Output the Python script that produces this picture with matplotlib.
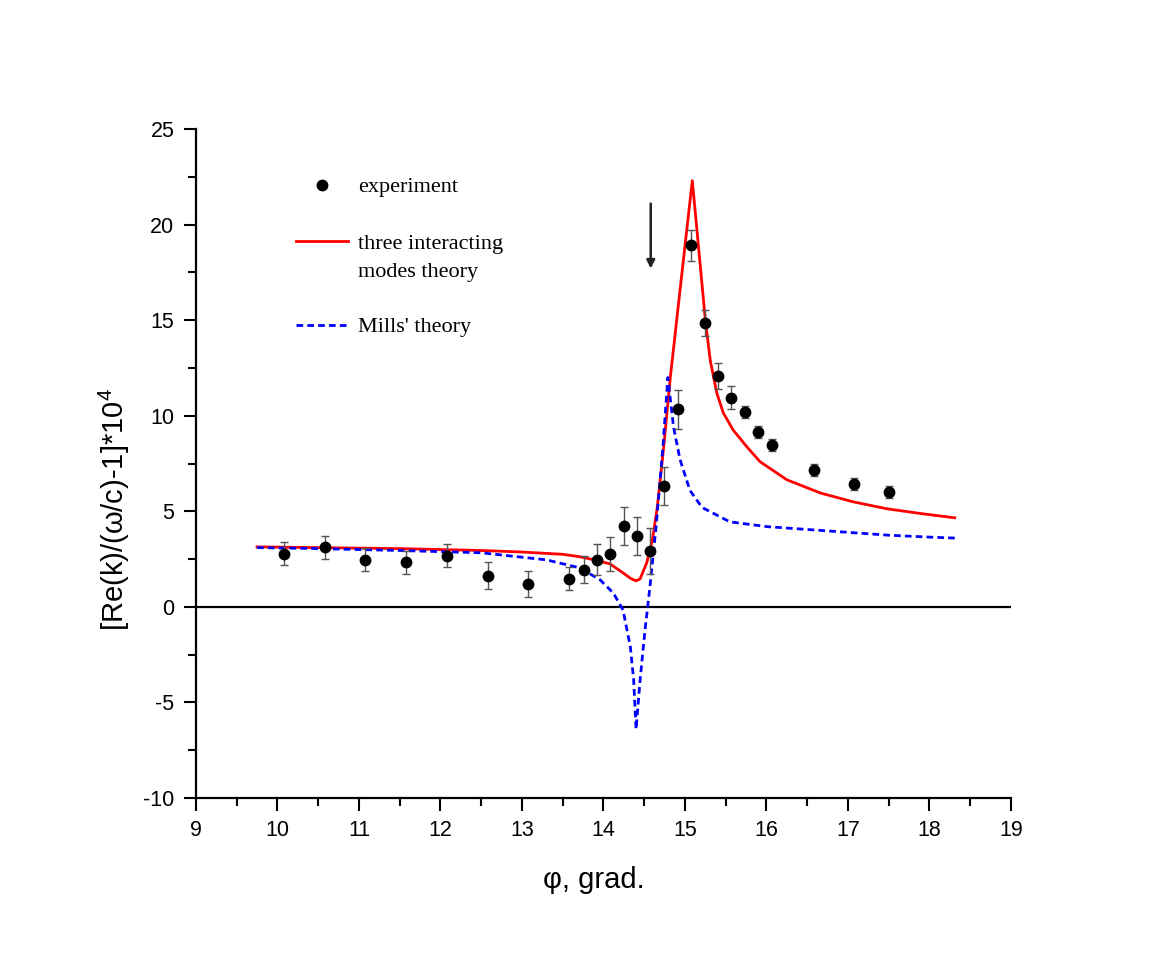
import matplotlib
matplotlib.use("Agg")
import matplotlib.pyplot as plt
from matplotlib.ticker import MultipleLocator
from matplotlib.lines import Line2D

plt.rcParams['font.family'] = ['Liberation Sans', 'DejaVu Sans']
plt.rcParams['mathtext.fontset'] = 'custom'
plt.rcParams['mathtext.rm'] = 'Liberation Sans'
plt.rcParams['axes.unicode_minus'] = False

# experiment points
phi_exp = [10.08, 10.58, 11.08, 11.58, 12.08, 12.58, 13.08, 13.58, 13.76, 13.92,
           14.08, 14.25, 14.41, 14.57, 14.74, 14.91, 15.08, 15.24, 15.41, 15.57,
           15.74, 15.90, 16.07, 16.58, 17.07, 17.50]
val_exp = [2.77, 3.12, 2.47, 2.33, 2.67, 1.64, 1.20, 1.48, 1.95, 2.47,
           2.77, 4.24, 3.70, 2.93, 6.33, 10.33, 18.92, 14.85, 12.08, 10.95,
           10.20, 9.16, 8.48, 7.15, 6.42, 6.00]
err_exp = [0.6, 0.6, 0.6, 0.6, 0.6, 0.7, 0.7, 0.6, 0.7, 0.8,
           0.9, 1.0, 1.0, 1.2, 1.0, 1.0, 0.8, 0.7, 0.7, 0.6,
           0.3, 0.3, 0.3, 0.3, 0.3, 0.3]

# three interacting modes theory
phi_three = [9.75, 10.5, 11.5, 12.5, 13.0, 13.5, 13.7, 13.9, 14.08, 14.24,
             14.33, 14.40, 14.45, 14.53, 14.60, 14.66, 14.74, 14.82, 14.94, 15.09,
             15.18, 15.25, 15.31, 15.39, 15.47, 15.59, 15.76, 15.92, 16.25, 16.66,
             17.06, 17.48, 17.9, 18.31]
val_three = [3.14, 3.10, 3.05, 2.95, 2.87, 2.75, 2.63, 2.45, 2.25, 1.78,
             1.50, 1.36, 1.47, 2.30, 3.50, 5.20, 8.40, 12.00, 16.60, 22.30,
             18.20, 15.00, 12.90, 11.20, 10.15, 9.26, 8.37, 7.60, 6.65, 5.96,
             5.50, 5.13, 4.88, 4.66]

# Mills' theory
phi_mills = [9.75, 10.5, 11.5, 12.5, 13.3, 13.71, 13.96, 14.12, 14.24, 14.33,
             14.37, 14.40, 14.45, 14.51, 14.57, 14.65, 14.73, 14.79, 14.86, 14.94,
             15.06, 15.21, 15.55, 16.0, 16.5, 17.0, 17.5, 18.0, 18.31]
val_mills = [3.10, 3.05, 2.95, 2.83, 2.46, 2.04, 1.41, 0.73, -0.16, -2.10,
             -3.80, -6.40, -3.80, -1.20, 1.05, 4.40, 8.40, 12.00, 9.40, 7.70,
             6.10, 5.20, 4.45, 4.20, 4.05, 3.90, 3.75, 3.65, 3.60]

arrow_x = 14.58
arrow_top = 21.1
arrow_tip = 17.7

dash = (0, (2.4, 1.5))

fig = plt.figure(figsize=(11.65, 9.58), dpi=100)
ax = fig.add_axes([0.1682, 0.1670, 0.6996, 0.6983])

ax.axhline(0, color='black', lw=1.6, zorder=1)
ax.plot(phi_three, val_three, color='red', lw=2.0, zorder=2)
ax.plot(phi_mills, val_mills, color='blue', lw=2.0, ls=dash, zorder=2)
ax.errorbar(phi_exp, val_exp, yerr=err_exp, fmt='o', color='black', ms=7.5,
            ecolor='#555555', elinewidth=1.0, capsize=3, capthick=1.0, zorder=3)

ax.annotate('', xy=(arrow_x, arrow_tip), xytext=(arrow_x, arrow_top),
            arrowprops=dict(arrowstyle='-|>', color='#222222', lw=1.8,
                            mutation_scale=12, shrinkA=0, shrinkB=0))

ax.set_xlim(9, 19)
ax.set_ylim(-10, 25)
ax.xaxis.set_major_locator(MultipleLocator(1))
ax.xaxis.set_minor_locator(MultipleLocator(0.5))
ax.yaxis.set_major_locator(MultipleLocator(5))
ax.yaxis.set_minor_locator(MultipleLocator(2.5))
ax.tick_params(which='major', direction='out', length=9, width=1.5, labelsize=15.5, pad=6.5)
ax.tick_params(which='minor', direction='out', length=6, width=1.5)
ax.spines['top'].set_visible(False)
ax.spines['right'].set_visible(False)
for s in ('left', 'bottom'):
    ax.spines[s].set_linewidth(1.6)

ax.set_xlabel('φ, grad.', fontsize=21)
ax.xaxis.set_label_coords(0.488, -0.101)
ax.set_ylabel('[Re(k)/(ω/c)-1]*10$^4$', fontsize=21)
ax.yaxis.set_label_coords(-0.078, 0.4305)

# legend, drawn as three separate blocks like the original
leg_kw = dict(frameon=False, borderpad=0, borderaxespad=0, handlelength=2.35,
              handletextpad=0.45, prop={'family': 'Liberation Serif', 'size': 16})
leg1 = ax.legend([Line2D([], [], ls='none', marker='o', color='black', ms=7.5)],
                 ['experiment'], loc='center left', bbox_to_anchor=(0.1227, 0.9133), **leg_kw)
ax.add_artist(leg1)
leg2 = ax.legend([Line2D([], [], color='red', lw=2.0), Line2D([], [], ls='none')],
                 ['three interacting', 'modes theory'], loc='center left',
                 bbox_to_anchor=(0.1227, 0.808), labelspacing=0.35, **leg_kw)
ax.add_artist(leg2)
ax.legend([Line2D([], [], color='blue', lw=2.0, ls=dash)], ["Mills' theory"],
          loc='center left', bbox_to_anchor=(0.1227, 0.704), **leg_kw)

fig.savefig('out.png', dpi=100)
